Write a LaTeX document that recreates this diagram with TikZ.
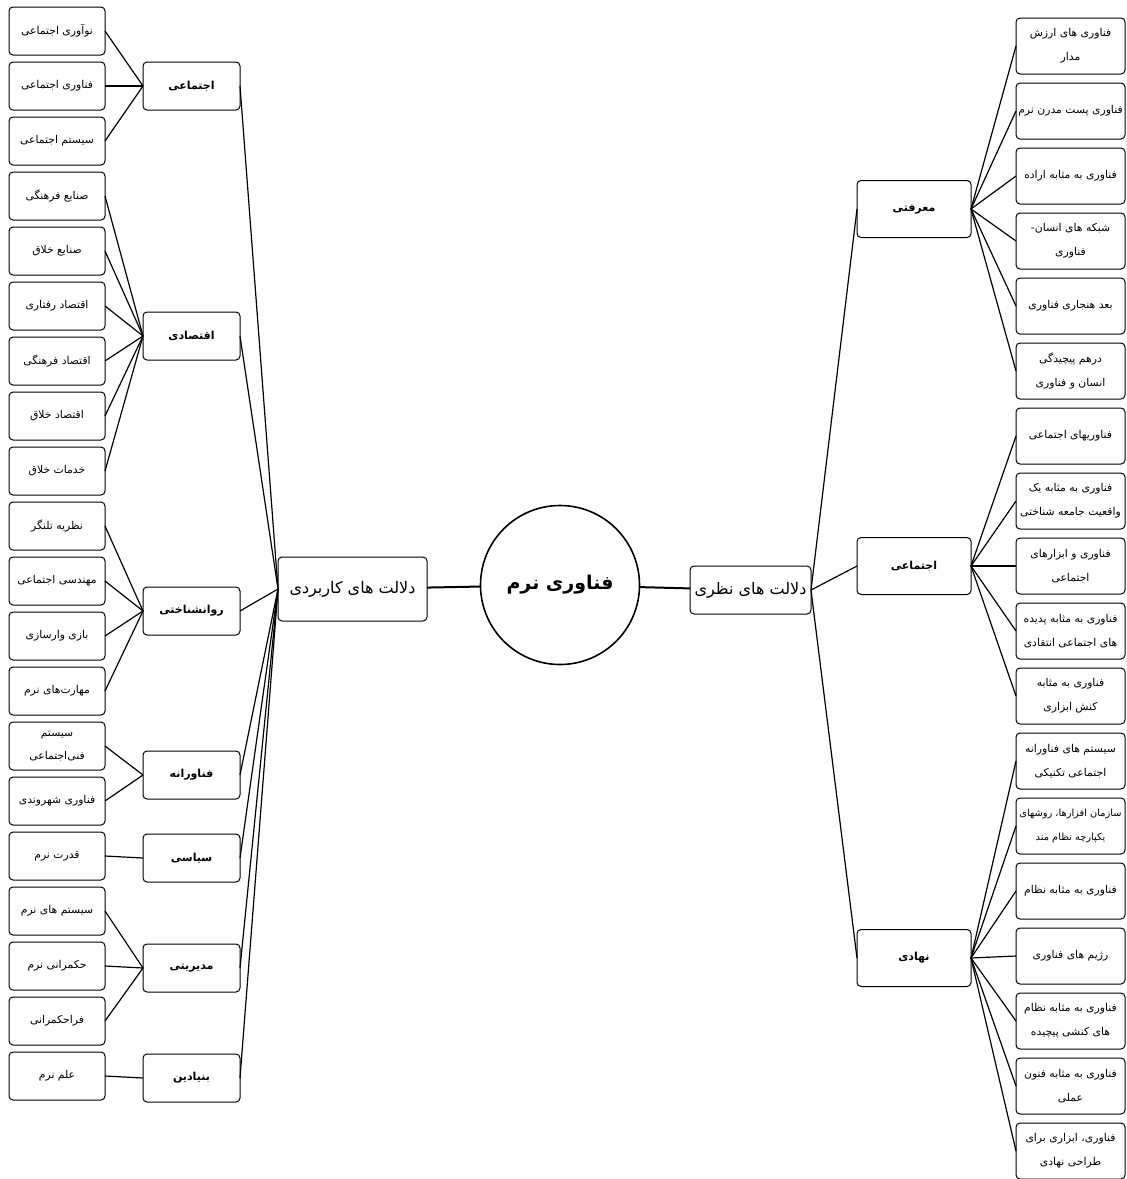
\documentclass[tikz,border=0pt]{standalone}
\usepackage{fontspec}
\usetikzlibrary{positioning}
\TeXXeTstate=1
\newfontfamily\arabicfont[Script=Arabic]{DejaVu Sans}
\newcommand{\fatext}[1]{\beginR #1\endR}
\tikzset{
  leafL/.style={rounded corners=4pt, draw, line width=1pt, outer sep=0pt, align=center, minimum width=96pt, minimum height=48pt, inner sep=1pt, font=\arabicfont\fontsize{10.8}{23}\selectfont},
  leafR/.style={rounded corners=4pt, draw, line width=1pt, outer sep=0pt, align=center, minimum width=109pt, minimum height=56pt, inner sep=1pt, font=\arabicfont\fontsize{10.8}{24}\selectfont},
  midL/.style={rounded corners=4pt, draw, line width=1pt, outer sep=0pt, align=center, minimum width=97pt, minimum height=48pt, font=\arabicfont\bfseries\fontsize{11}{13}\selectfont},
  midR/.style={rounded corners=4pt, draw, line width=1pt, outer sep=0pt, align=center, minimum width=114pt, minimum height=57pt, font=\arabicfont\bfseries\fontsize{11}{13}\selectfont},
  branch/.style={rounded corners=4pt, draw, line width=1pt, outer sep=0pt, align=center, font=\arabicfont\fontsize{16}{18}\selectfont},
  core/.style={circle, draw, line width=1.6pt, minimum size=159pt, outer sep=0pt, font=\arabicfont\bfseries\fontsize{19}{22}\selectfont},
  link/.style={line width=1.2pt},
  trunk/.style={line width=2pt}
}

\begin{document}
\begin{tikzpicture}[x=1pt, y=-1pt, node distance=7pt]
  \useasboundingbox (0,0) rectangle (1127,1179);

  % center
  \node[core] (core) at (560,585) {\fatext{فناوری نرم}};
  \node[branch, minimum width=149pt, minimum height=64pt] (applied) at (352.5,589) {\fatext{دلالت های کاربردی}};
  \node[branch, minimum width=121pt, minimum height=48pt, inner sep=2pt] (theory) at (750.5,590) {\fatext{دلالت های نظری}};

  % left side, middle level
  \node[midL] (social) at (191.5,86) {\fatext{اجتماعی}};
  \node[midL] (econ) at (191.5,336) {\fatext{اقتصادی}};
  \node[midL] (psych) at (191.5,611) {\fatext{روانشناختی}};
  \node[midL] (techno) at (191.5,775) {\fatext{فناورانه}};
  \node[midL] (polit) at (191.5,858) {\fatext{سیاسی}};
  \node[midL] (manage) at (191.5,968) {\fatext{مدیریتی}};
  \node[midL] (found) at (191.5,1078) {\fatext{بنیادین}};

  % left side, leaves
  \node[leafL] (soc1) at (57,31) {\fatext{نوآوری اجتماعی}};
  \node[leafL, below=of soc1] (soc2) {\fatext{فناوری اجتماعی}};
  \node[leafL, below=of soc2] (soc3) {\fatext{سیستم اجتماعی}};
  \node[leafL, below=of soc3] (eco1) {\fatext{صنایع فرهنگی}};
  \node[leafL, below=of eco1] (eco2) {\fatext{صنایع خلاق}};
  \node[leafL, below=of eco2] (eco3) {\fatext{اقتصاد رفتاری}};
  \node[leafL, below=of eco3] (eco4) {\fatext{اقتصاد فرهنگی}};
  \node[leafL, below=of eco4] (eco5) {\fatext{اقتصاد خلاق}};
  \node[leafL, below=of eco5] (eco6) {\fatext{خدمات خلاق}};
  \node[leafL, below=of eco6] (psy1) {\fatext{نظریه تلنگر}};
  \node[leafL, below=of psy1] (psy2) {\fatext{مهندسی اجتماعی}};
  \node[leafL, below=of psy2] (psy3) {\fatext{بازی وارسازی}};
  \node[leafL, below=of psy3] (psy4) {\fatext{مهارت‌های نرم}};
  \node[leafL, below=of psy4] (tec1) {\fatext{سیستم}\\\fatext{فنی‌اجتماعی}};
  \node[leafL, below=of tec1] (tec2) {\fatext{فناوری شهروندی}};
  \node[leafL, below=of tec2] (pol1) {\fatext{قدرت نرم}};
  \node[leafL, below=of pol1] (man1) {\fatext{سیستم های نرم}};
  \node[leafL, below=of man1] (man2) {\fatext{حکمرانی نرم}};
  \node[leafL, below=of man2] (man3) {\fatext{فراحکمرانی}};
  \node[leafL, below=of man3] (fnd1) {\fatext{علم نرم}};

  % right side, middle level
  \node[midR] (epist) at (914,209) {\fatext{معرفتی}};
  \node[midR] (socialR) at (914,566) {\fatext{اجتماعی}};
  \node[midR] (inst) at (914,958) {\fatext{نهادی}};

  % right side, leaves
  \node[leafR] (epi1) at (1070.5,46) {\fatext{فناوری های ارزش}\\\fatext{مدار}};
  \node[leafR, below=9pt of epi1] (epi2) {\fatext{فناوری پست مدرن نرم}};
  \node[leafR, below=9pt of epi2] (epi3) {\fatext{فناوری به مثابه اراده}};
  \node[leafR, below=9pt of epi3] (epi4) {\fatext{شبکه های انسان-}\\\fatext{فناوری}};
  \node[leafR, below=9pt of epi4] (epi5) {\fatext{بعد هنجاری فناوری}};
  \node[leafR, below=9pt of epi5] (epi6) {\fatext{درهم پیچیدگی}\\\fatext{انسان و فناوری}};
  \node[leafR, below=9pt of epi6] (sr1) {\fatext{فناوریهای اجتماعی}};
  \node[leafR, below=9pt of sr1] (sr2) {\fatext{فناوری به مثابه یک}\\\fatext{واقعیت جامعه شناختی}};
  \node[leafR, below=9pt of sr2] (sr3) {\fatext{فناوری و ابزارهای}\\\fatext{اجتماعی}};
  \node[leafR, below=9pt of sr3] (sr4) {\fatext{فناوری به مثابه پدیده}\\\fatext{های اجتماعی انتقادی}};
  \node[leafR, below=9pt of sr4] (sr5) {\fatext{فناوری به مثابه}\\\fatext{کنش ابزاری}};
  \node[leafR, below=9pt of sr5] (ins1) {\fatext{سیستم های فناورانه}\\\fatext{اجتماعی تکنیکی}};
  \node[leafR, below=9pt of ins1, font=\arabicfont\fontsize{9.8}{24}\selectfont] (ins2) {\fatext{سازمان افزارها، روشهای}\\\fatext{یکپارچه نظام مند}};
  \node[leafR, below=9pt of ins2] (ins3) {\fatext{فناوری به مثابه نظام}};
  \node[leafR, below=9pt of ins3] (ins4) {\fatext{رژیم های فناوری}};
  \node[leafR, below=9pt of ins4] (ins5) {\fatext{فناوری به مثابه نظام}\\\fatext{های کنشی پیچیده}};
  \node[leafR, below=9pt of ins5] (ins6) {\fatext{فناوری به مثابه فنون}\\\fatext{عملی}};
  \node[leafR, below=9pt of ins6] (ins7) {\fatext{فناوری، ابزاری برای}\\\fatext{طراحی نهادی}};

  % trunk
  \draw[trunk] (applied) -- (core);
  \draw[trunk] (core) -- (theory);

  % applied branch
  \draw[link] (social.east) -- (applied.west);
  \draw[link] (econ.east) -- (applied.west);
  \draw[link] (psych.east) -- (applied.west);
  \draw[link] (techno.east) -- (applied.west);
  \draw[link] (polit.east) -- (applied.west);
  \draw[link] (manage.east) -- (applied.west);
  \draw[link] (found.east) -- (applied.west);

  \draw[link] (soc1.east) -- (social.west);
  \draw[link] (soc2.east) -- (social.west);
  \draw[link] (soc3.east) -- (social.west);
  \draw[link] (eco1.east) -- (econ.west);
  \draw[link] (eco2.east) -- (econ.west);
  \draw[link] (eco3.east) -- (econ.west);
  \draw[link] (eco4.east) -- (econ.west);
  \draw[link] (eco5.east) -- (econ.west);
  \draw[link] (eco6.east) -- (econ.west);
  \draw[link] (psy1.east) -- (psych.west);
  \draw[link] (psy2.east) -- (psych.west);
  \draw[link] (psy3.east) -- (psych.west);
  \draw[link] (psy4.east) -- (psych.west);
  \draw[link] (tec1.east) -- (techno.west);
  \draw[link] (tec2.east) -- (techno.west);
  \draw[link] (pol1.east) -- (polit.west);
  \draw[link] (man1.east) -- (manage.west);
  \draw[link] (man2.east) -- (manage.west);
  \draw[link] (man3.east) -- (manage.west);
  \draw[link] (fnd1.east) -- (found.west);

  % theory branch
  \draw[link] (theory.east) -- (epist.west);
  \draw[link] (theory.east) -- (socialR.west);
  \draw[link] (theory.east) -- (inst.west);

  \draw[link] (epist.east) -- (epi1.west);
  \draw[link] (epist.east) -- (epi2.west);
  \draw[link] (epist.east) -- (epi3.west);
  \draw[link] (epist.east) -- (epi4.west);
  \draw[link] (epist.east) -- (epi5.west);
  \draw[link] (epist.east) -- (epi6.west);
  \draw[link] (socialR.east) -- (sr1.west);
  \draw[link] (socialR.east) -- (sr2.west);
  \draw[link] (socialR.east) -- (sr3.west);
  \draw[link] (socialR.east) -- (sr4.west);
  \draw[link] (socialR.east) -- (sr5.west);
  \draw[link] (inst.east) -- (ins1.west);
  \draw[link] (inst.east) -- (ins2.west);
  \draw[link] (inst.east) -- (ins3.west);
  \draw[link] (inst.east) -- (ins4.west);
  \draw[link] (inst.east) -- (ins5.west);
  \draw[link] (inst.east) -- (ins6.west);
  \draw[link] (inst.east) -- (ins7.west);
\end{tikzpicture}
\end{document}
